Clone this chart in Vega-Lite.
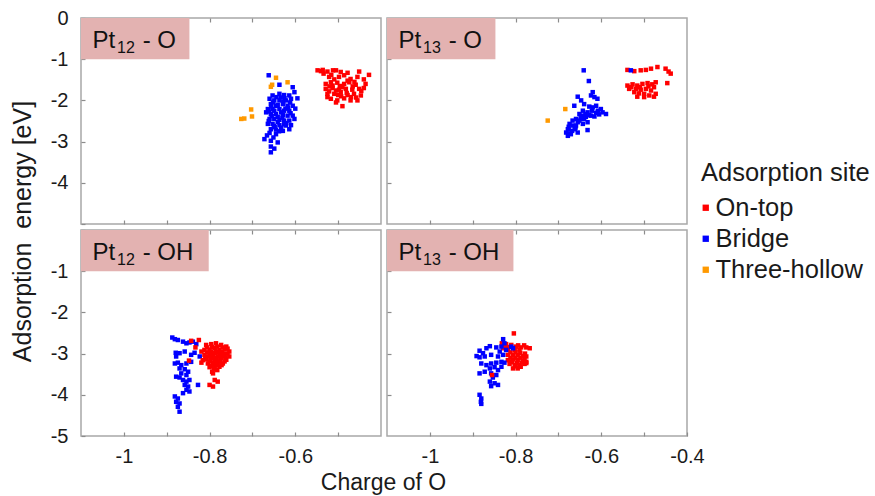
{
  "$schema": "https://vega.github.io/schema/vega-lite/v6.json",
  "padding": {"left": 9, "top": 7, "right": 5, "bottom": 0},
  "config": {
    "font": "Liberation Sans",
    "view": {"stroke": "#a8a8a8", "strokeWidth": 1.5},
    "axis": {"grid": false, "domain": false, "tickColor": "#8c8c8c", "tickSize": -4, "tickWidth": 1.2, "labelFontSize": 20, "labelColor": "#1a1a1a", "titleColor": "#1a1a1a", "titleFontWeight": "normal", "labelFlush": false, "labelOverlap": false, "labelPadding": 14},
    "axisY": {"labelPadding": 17},
    "legend": {"orient": "none", "legendX": 620, "legendY": 142.5, "titleFontSize": 25.5, "labelFontSize": 25.5, "titleFontWeight": "normal", "titleColor": "#1a1a1a", "labelColor": "#1a1a1a", "symbolType": "square", "symbolSize": 40, "symbolStrokeWidth": 0, "symbolOffset": -8, "rowPadding": 4, "titlePadding": 9, "labelOffset": -3, "padding": 0}
  },
  "datasets": {
    "pt12o": [
      {"site":"Bridge","charge":-0.662,"energy":-1.39},{"site":"Bridge","charge":-0.637,"energy":-1.62},{"site":"Bridge","charge":-0.606,"energy":-1.68},{"site":"Bridge","charge":-0.602,"energy":-1.80},{"site":"Bridge","charge":-0.653,"energy":-1.88},{"site":"Bridge","charge":-0.637,"energy":-1.84},{"site":"Bridge","charge":-0.626,"energy":-1.87},{"site":"Bridge","charge":-0.614,"energy":-1.88},{"site":"Bridge","charge":-0.660,"energy":-1.96},{"site":"Bridge","charge":-0.649,"energy":-2.00},{"site":"Bridge","charge":-0.637,"energy":-2.00},{"site":"Bridge","charge":-0.622,"energy":-2.00},{"site":"Bridge","charge":-0.610,"energy":-1.96},{"site":"Bridge","charge":-0.595,"energy":-1.95},{"site":"Bridge","charge":-0.657,"energy":-2.09},{"site":"Bridge","charge":-0.641,"energy":-2.11},{"site":"Bridge","charge":-0.629,"energy":-2.09},{"site":"Bridge","charge":-0.618,"energy":-2.13},{"site":"Bridge","charge":-0.606,"energy":-2.13},{"site":"Bridge","charge":-0.664,"energy":-2.21},{"site":"Bridge","charge":-0.653,"energy":-2.21},{"site":"Bridge","charge":-0.637,"energy":-2.21},{"site":"Bridge","charge":-0.626,"energy":-2.25},{"site":"Bridge","charge":-0.614,"energy":-2.25},{"site":"Bridge","charge":-0.668,"energy":-2.29},{"site":"Bridge","charge":-0.657,"energy":-2.33},{"site":"Bridge","charge":-0.645,"energy":-2.33},{"site":"Bridge","charge":-0.629,"energy":-2.35},{"site":"Bridge","charge":-0.606,"energy":-2.37},{"site":"Bridge","charge":-0.660,"energy":-2.45},{"site":"Bridge","charge":-0.649,"energy":-2.45},{"site":"Bridge","charge":-0.637,"energy":-2.47},{"site":"Bridge","charge":-0.626,"energy":-2.49},{"site":"Bridge","charge":-0.614,"energy":-2.49},{"site":"Bridge","charge":-0.664,"energy":-2.57},{"site":"Bridge","charge":-0.653,"energy":-2.57},{"site":"Bridge","charge":-0.637,"energy":-2.60},{"site":"Bridge","charge":-0.622,"energy":-2.61},{"site":"Bridge","charge":-0.610,"energy":-2.60},{"site":"Bridge","charge":-0.657,"energy":-2.70},{"site":"Bridge","charge":-0.645,"energy":-2.71},{"site":"Bridge","charge":-0.629,"energy":-2.74},{"site":"Bridge","charge":-0.614,"energy":-2.70},{"site":"Bridge","charge":-0.660,"energy":-2.79},{"site":"Bridge","charge":-0.645,"energy":-2.82},{"site":"Bridge","charge":-0.672,"energy":-2.94},{"site":"Bridge","charge":-0.657,"energy":-2.98},{"site":"Bridge","charge":-0.641,"energy":-3.02},{"site":"Bridge","charge":-0.657,"energy":-3.12},{"site":"Bridge","charge":-0.649,"energy":-3.17},{"site":"Bridge","charge":-0.657,"energy":-3.26},{"site":"Bridge","charge":-0.645,"energy":-2.13},{"site":"Bridge","charge":-0.633,"energy":-2.29},{"site":"Bridge","charge":-0.641,"energy":-2.53},{"site":"Bridge","charge":-0.618,"energy":-2.37},{"site":"Bridge","charge":-0.649,"energy":-2.25},{"site":"Bridge","charge":-0.652,"energy":-2.05},{"site":"Bridge","charge":-0.628,"energy":-2.04},{"site":"Bridge","charge":-0.617,"energy":-2.18},{"site":"Bridge","charge":-0.641,"energy":-2.40},{"site":"Bridge","charge":-0.630,"energy":-2.42},{"site":"Bridge","charge":-0.655,"energy":-2.38},{"site":"Bridge","charge":-0.621,"energy":-2.55},{"site":"Bridge","charge":-0.648,"energy":-2.65},{"site":"Bridge","charge":-0.633,"energy":-2.66},{"site":"Bridge","charge":-0.662,"energy":-2.50},{"site":"Bridge","charge":-0.625,"energy":-1.95},{"site":"Bridge","charge":-0.644,"energy":-1.92},
      {"site":"Bridge","charge":-0.634,"energy":-1.93},{"site":"Bridge","charge":-0.656,"energy":-2.15},{"site":"Bridge","charge":-0.623,"energy":-2.20},{"site":"Bridge","charge":-0.661,"energy":-2.27},{"site":"Bridge","charge":-0.611,"energy":-2.31},{"site":"Bridge","charge":-0.650,"energy":-2.62},{"site":"Bridge","charge":-0.626,"energy":-2.58},{"site":"Bridge","charge":-0.638,"energy":-2.75},{"site":"Bridge","charge":-0.666,"energy":-2.85},{"site":"Bridge","charge":-0.651,"energy":-2.90},{"site":"Bridge","charge":-0.612,"energy":-2.05},{"site":"Bridge","charge":-0.600,"energy":-2.20},{"site":"Bridge","charge":-0.602,"energy":-2.45},
      {"site":"Three-hollow","charge":-0.645,"energy":-1.45},{"site":"Three-hollow","charge":-0.618,"energy":-1.56},{"site":"Three-hollow","charge":-0.654,"energy":-1.62},{"site":"Three-hollow","charge":-0.657,"energy":-1.67},{"site":"Three-hollow","charge":-0.703,"energy":-2.22},{"site":"Three-hollow","charge":-0.701,"energy":-2.39},{"site":"Three-hollow","charge":-0.726,"energy":-2.45},{"site":"Three-hollow","charge":-0.719,"energy":-2.44},
      {"site":"On-top","charge":-0.548,"energy":-1.27},{"site":"On-top","charge":-0.536,"energy":-1.26},{"site":"On-top","charge":-0.525,"energy":-1.30},{"site":"On-top","charge":-0.505,"energy":-1.27},{"site":"On-top","charge":-0.494,"energy":-1.31},{"site":"On-top","charge":-0.478,"energy":-1.33},{"site":"On-top","charge":-0.451,"energy":-1.30},{"site":"On-top","charge":-0.428,"energy":-1.38},{"site":"On-top","charge":-0.521,"energy":-1.43},{"site":"On-top","charge":-0.498,"energy":-1.43},{"site":"On-top","charge":-0.486,"energy":-1.39},{"site":"On-top","charge":-0.471,"energy":-1.48},{"site":"On-top","charge":-0.455,"energy":-1.43},{"site":"On-top","charge":-0.440,"energy":-1.49},{"site":"On-top","charge":-0.529,"energy":-1.60},{"site":"On-top","charge":-0.517,"energy":-1.56},{"site":"On-top","charge":-0.502,"energy":-1.57},{"site":"On-top","charge":-0.486,"energy":-1.60},{"site":"On-top","charge":-0.474,"energy":-1.56},{"site":"On-top","charge":-0.459,"energy":-1.62},{"site":"On-top","charge":-0.436,"energy":-1.60},{"site":"On-top","charge":-0.529,"energy":-1.72},{"site":"On-top","charge":-0.513,"energy":-1.70},{"site":"On-top","charge":-0.498,"energy":-1.74},{"site":"On-top","charge":-0.482,"energy":-1.72},{"site":"On-top","charge":-0.467,"energy":-1.74},{"site":"On-top","charge":-0.451,"energy":-1.72},{"site":"On-top","charge":-0.440,"energy":-1.70},{"site":"On-top","charge":-0.525,"energy":-1.84},{"site":"On-top","charge":-0.509,"energy":-1.84},{"site":"On-top","charge":-0.494,"energy":-1.80},{"site":"On-top","charge":-0.478,"energy":-1.87},{"site":"On-top","charge":-0.463,"energy":-1.84},{"site":"On-top","charge":-0.447,"energy":-1.88},{"site":"On-top","charge":-0.517,"energy":-1.96},{"site":"On-top","charge":-0.502,"energy":-2.00},{"site":"On-top","charge":-0.486,"energy":-1.95},{"site":"On-top","charge":-0.471,"energy":-2.00},{"site":"On-top","charge":-0.455,"energy":-2.00},{"site":"On-top","charge":-0.490,"energy":-2.14},{"site":"On-top","charge":-0.505,"energy":-2.05},{"site":"On-top","charge":-0.513,"energy":-1.64},{"site":"On-top","charge":-0.505,"energy":-1.76},{"site":"On-top","charge":-0.490,"energy":-1.68},{"site":"On-top","charge":-0.521,"energy":-1.78},{"site":"On-top","charge":-0.509,"energy":-1.49},{"site":"On-top","charge":-0.496,"energy":-1.65},{"site":"On-top","charge":-0.480,"energy":-1.82},{"site":"On-top","charge":-0.520,"energy":-1.66},{"site":"On-top","charge":-0.500,"energy":-1.87},{"site":"On-top","charge":-0.466,"energy":-1.66},{"site":"On-top","charge":-0.512,"energy":-1.27},{"site":"On-top","charge":-0.540,"energy":-1.29},
      {"site":"On-top","charge":-0.534,"energy":-1.35},{"site":"On-top","charge":-0.516,"energy":-1.38},{"site":"On-top","charge":-0.478,"energy":-1.52},{"site":"On-top","charge":-0.462,"energy":-1.55},{"site":"On-top","charge":-0.446,"energy":-1.77},{"site":"On-top","charge":-0.458,"energy":-1.93},{"site":"On-top","charge":-0.525,"energy":-1.92},{"site":"On-top","charge":-0.493,"energy":-1.90},{"site":"On-top","charge":-0.470,"energy":-1.92}
    ],
    "pt13o": [
      {"site":"Bridge","charge":-0.641,"energy":-1.27},{"site":"Bridge","charge":-0.629,"energy":-1.53},{"site":"Bridge","charge":-0.620,"energy":-1.80},{"site":"Bridge","charge":-0.624,"energy":-1.88},{"site":"Bridge","charge":-0.616,"energy":-1.92},{"site":"Bridge","charge":-0.655,"energy":-1.91},{"site":"Bridge","charge":-0.609,"energy":-1.96},{"site":"Bridge","charge":-0.647,"energy":-2.00},{"site":"Bridge","charge":-0.640,"energy":-2.09},{"site":"Bridge","charge":-0.628,"energy":-2.15},{"site":"Bridge","charge":-0.620,"energy":-2.17},{"site":"Bridge","charge":-0.612,"energy":-2.13},{"site":"Bridge","charge":-0.663,"energy":-2.13},{"site":"Bridge","charge":-0.601,"energy":-2.21},{"site":"Bridge","charge":-0.589,"energy":-2.33},{"site":"Bridge","charge":-0.597,"energy":-2.29},{"site":"Bridge","charge":-0.643,"energy":-2.25},{"site":"Bridge","charge":-0.632,"energy":-2.29},{"site":"Bridge","charge":-0.651,"energy":-2.33},{"site":"Bridge","charge":-0.643,"energy":-2.37},{"site":"Bridge","charge":-0.624,"energy":-2.37},{"site":"Bridge","charge":-0.616,"energy":-2.39},{"site":"Bridge","charge":-0.659,"energy":-2.45},{"site":"Bridge","charge":-0.647,"energy":-2.45},{"site":"Bridge","charge":-0.667,"energy":-2.49},{"site":"Bridge","charge":-0.655,"energy":-2.53},{"site":"Bridge","charge":-0.643,"energy":-2.57},{"site":"Bridge","charge":-0.632,"energy":-2.53},{"site":"Bridge","charge":-0.674,"energy":-2.57},{"site":"Bridge","charge":-0.667,"energy":-2.61},{"site":"Bridge","charge":-0.678,"energy":-2.70},{"site":"Bridge","charge":-0.682,"energy":-2.78},{"site":"Bridge","charge":-0.671,"energy":-2.82},{"site":"Bridge","charge":-0.678,"energy":-2.86},{"site":"Bridge","charge":-0.655,"energy":-2.78},{"site":"Bridge","charge":-0.632,"energy":-2.72},{"site":"Bridge","charge":-0.651,"energy":-2.49},{"site":"Bridge","charge":-0.659,"energy":-2.61},{"site":"Bridge","charge":-0.640,"energy":-2.45},{"site":"Bridge","charge":-0.675,"energy":-2.80},{"site":"Bridge","charge":-0.668,"energy":-2.74},{"site":"Bridge","charge":-0.636,"energy":-2.40},{"site":"Bridge","charge":-0.628,"energy":-2.36},{"site":"Bridge","charge":-0.648,"energy":-2.42},{"site":"Bridge","charge":-0.612,"energy":-2.30},{"site":"Bridge","charge":-0.605,"energy":-2.34},
      {"site":"Bridge","charge":-0.622,"energy":-2.25},{"site":"Bridge","charge":-0.608,"energy":-2.25},{"site":"Bridge","charge":-0.637,"energy":-2.33},{"site":"Bridge","charge":-0.662,"energy":-2.70},{"site":"Bridge","charge":-0.660,"energy":-2.66},{"site":"Bridge","charge":-0.676,"energy":-2.64},
      {"site":"Three-hollow","charge":-0.684,"energy":-2.21},{"site":"Three-hollow","charge":-0.725,"energy":-2.49},
      {"site":"On-top","charge":-0.539,"energy":-1.26},{"site":"On-top","charge":-0.523,"energy":-1.29},{"site":"On-top","charge":-0.508,"energy":-1.27},{"site":"On-top","charge":-0.496,"energy":-1.26},{"site":"On-top","charge":-0.484,"energy":-1.23},{"site":"On-top","charge":-0.469,"energy":-1.19},{"site":"On-top","charge":-0.450,"energy":-1.23},{"site":"On-top","charge":-0.438,"energy":-1.35},{"site":"On-top","charge":-0.446,"energy":-1.58},{"site":"On-top","charge":-0.473,"energy":-1.56},{"site":"On-top","charge":-0.481,"energy":-1.61},{"site":"On-top","charge":-0.539,"energy":-1.64},{"site":"On-top","charge":-0.527,"energy":-1.61},{"site":"On-top","charge":-0.516,"energy":-1.64},{"site":"On-top","charge":-0.504,"energy":-1.60},{"site":"On-top","charge":-0.492,"energy":-1.58},{"site":"On-top","charge":-0.477,"energy":-1.68},{"site":"On-top","charge":-0.535,"energy":-1.72},{"site":"On-top","charge":-0.519,"energy":-1.72},{"site":"On-top","charge":-0.508,"energy":-1.74},{"site":"On-top","charge":-0.496,"energy":-1.72},{"site":"On-top","charge":-0.484,"energy":-1.76},{"site":"On-top","charge":-0.473,"energy":-1.84},{"site":"On-top","charge":-0.523,"energy":-1.80},{"site":"On-top","charge":-0.512,"energy":-1.83},{"site":"On-top","charge":-0.500,"energy":-1.84},{"site":"On-top","charge":-0.488,"energy":-1.88},{"site":"On-top","charge":-0.516,"energy":-1.91},{"site":"On-top","charge":-0.500,"energy":-1.92},{"site":"On-top","charge":-0.477,"energy":-1.91},{"site":"On-top","charge":-0.443,"energy":-1.30},{"site":"On-top","charge":-0.510,"energy":-1.68},{"site":"On-top","charge":-0.490,"energy":-1.66},{"site":"On-top","charge":-0.530,"energy":-1.68},
      {"site":"Bridge","charge":-0.531,"energy":-1.27}
    ],
    "pt12oh": [
      {"site":"Bridge","charge":-0.887,"energy":-2.61},{"site":"Bridge","charge":-0.881,"energy":-2.65},{"site":"Bridge","charge":-0.874,"energy":-2.67},{"site":"Bridge","charge":-0.862,"energy":-2.71},{"site":"Bridge","charge":-0.854,"energy":-2.75},{"site":"Bridge","charge":-0.847,"energy":-2.73},{"site":"Bridge","charge":-0.839,"energy":-2.71},{"site":"Bridge","charge":-0.831,"energy":-2.77},{"site":"Bridge","charge":-0.879,"energy":-2.98},{"site":"Bridge","charge":-0.870,"energy":-2.99},{"site":"Bridge","charge":-0.858,"energy":-2.95},{"site":"Bridge","charge":-0.843,"energy":-3.03},{"site":"Bridge","charge":-0.835,"energy":-2.98},{"site":"Bridge","charge":-0.823,"energy":-3.07},{"site":"Bridge","charge":-0.878,"energy":-3.07},{"site":"Bridge","charge":-0.881,"energy":-3.24},{"site":"Bridge","charge":-0.874,"energy":-3.22},{"site":"Bridge","charge":-0.866,"energy":-3.28},{"site":"Bridge","charge":-0.854,"energy":-3.24},{"site":"Bridge","charge":-0.843,"energy":-3.20},{"site":"Bridge","charge":-0.870,"energy":-3.36},{"site":"Bridge","charge":-0.858,"energy":-3.38},{"site":"Bridge","charge":-0.850,"energy":-3.44},{"site":"Bridge","charge":-0.866,"energy":-3.48},{"site":"Bridge","charge":-0.854,"energy":-3.52},{"site":"Bridge","charge":-0.878,"energy":-3.56},{"site":"Bridge","charge":-0.870,"energy":-3.58},{"site":"Bridge","charge":-0.862,"energy":-3.64},{"site":"Bridge","charge":-0.854,"energy":-3.68},{"site":"Bridge","charge":-0.847,"energy":-3.64},{"site":"Bridge","charge":-0.858,"energy":-3.76},{"site":"Bridge","charge":-0.850,"energy":-3.80},{"site":"Bridge","charge":-0.827,"energy":-3.76},{"site":"Bridge","charge":-0.854,"energy":-3.88},{"site":"Bridge","charge":-0.847,"energy":-3.92},{"site":"Bridge","charge":-0.862,"energy":-3.96},{"site":"Bridge","charge":-0.881,"energy":-4.04},{"site":"Bridge","charge":-0.874,"energy":-4.09},{"site":"Bridge","charge":-0.878,"energy":-4.17},{"site":"Bridge","charge":-0.870,"energy":-4.21},{"site":"Bridge","charge":-0.874,"energy":-4.29},{"site":"Bridge","charge":-0.870,"energy":-4.41},
      {"site":"On-top","charge":-0.843,"energy":-2.69},{"site":"On-top","charge":-0.825,"energy":-2.67},{"site":"On-top","charge":-0.833,"energy":-2.85},{"site":"On-top","charge":-0.819,"energy":-2.95},{"site":"On-top","charge":-0.816,"energy":-3.16},{"site":"On-top","charge":-0.848,"energy":-3.17},{"site":"On-top","charge":-0.819,"energy":-3.22},{"site":"On-top","charge":-0.792,"energy":-3.48},{"site":"On-top","charge":-0.788,"energy":-3.64},{"site":"On-top","charge":-0.800,"energy":-3.76},{"site":"On-top","charge":-0.792,"energy":-3.80},{"site":"On-top","charge":-0.781,"energy":-3.68},{"site":"On-top","charge":-0.808,"energy":-2.79},{"site":"On-top","charge":-0.796,"energy":-2.77},{"site":"On-top","charge":-0.785,"energy":-2.75},{"site":"On-top","charge":-0.773,"energy":-2.79},{"site":"On-top","charge":-0.761,"energy":-2.83},{"site":"On-top","charge":-0.812,"energy":-2.91},{"site":"On-top","charge":-0.800,"energy":-2.90},{"site":"On-top","charge":-0.788,"energy":-2.87},{"site":"On-top","charge":-0.777,"energy":-2.91},{"site":"On-top","charge":-0.765,"energy":-2.90},{"site":"On-top","charge":-0.754,"energy":-2.95},{"site":"On-top","charge":-0.812,"energy":-3.03},{"site":"On-top","charge":-0.800,"energy":-3.01},{"site":"On-top","charge":-0.788,"energy":-2.99},{"site":"On-top","charge":-0.777,"energy":-3.03},{"site":"On-top","charge":-0.765,"energy":-3.01},{"site":"On-top","charge":-0.754,"energy":-3.07},{"site":"On-top","charge":-0.808,"energy":-3.14},{"site":"On-top","charge":-0.796,"energy":-3.11},{"site":"On-top","charge":-0.785,"energy":-3.14},{"site":"On-top","charge":-0.773,"energy":-3.11},{"site":"On-top","charge":-0.761,"energy":-3.15},{"site":"On-top","charge":-0.804,"energy":-3.24},{"site":"On-top","charge":-0.792,"energy":-3.22},{"site":"On-top","charge":-0.781,"energy":-3.25},{"site":"On-top","charge":-0.769,"energy":-3.24},{"site":"On-top","charge":-0.800,"energy":-3.33},{"site":"On-top","charge":-0.788,"energy":-3.36},{"site":"On-top","charge":-0.777,"energy":-3.32},{"site":"On-top","charge":-0.794,"energy":-3.44},{"site":"On-top","charge":-0.804,"energy":-3.07},{"site":"On-top","charge":-0.792,"energy":-3.07},{"site":"On-top","charge":-0.781,"energy":-3.07},{"site":"On-top","charge":-0.769,"energy":-3.07},{"site":"On-top","charge":-0.796,"energy":-2.95},{"site":"On-top","charge":-0.785,"energy":-2.95},{"site":"On-top","charge":-0.773,"energy":-2.98},{"site":"On-top","charge":-0.792,"energy":-3.28},{"site":"On-top","charge":-0.785,"energy":-3.20},
      {"site":"On-top","charge":-0.806,"energy":-2.85},{"site":"On-top","charge":-0.794,"energy":-2.84},{"site":"On-top","charge":-0.782,"energy":-2.83},{"site":"On-top","charge":-0.770,"energy":-2.85},{"site":"On-top","charge":-0.758,"energy":-2.88},{"site":"On-top","charge":-0.806,"energy":-2.97},{"site":"On-top","charge":-0.794,"energy":-3.00},{"site":"On-top","charge":-0.782,"energy":-2.97},{"site":"On-top","charge":-0.770,"energy":-2.96},{"site":"On-top","charge":-0.758,"energy":-3.00},{"site":"On-top","charge":-0.810,"energy":-3.09},{"site":"On-top","charge":-0.798,"energy":-3.13},{"site":"On-top","charge":-0.787,"energy":-3.10},{"site":"On-top","charge":-0.775,"energy":-3.15},{"site":"On-top","charge":-0.763,"energy":-3.10},{"site":"On-top","charge":-0.800,"energy":-3.19},{"site":"On-top","charge":-0.788,"energy":-3.18},{"site":"On-top","charge":-0.776,"energy":-3.19},{"site":"On-top","charge":-0.765,"energy":-3.19},{"site":"On-top","charge":-0.796,"energy":-3.30},{"site":"On-top","charge":-0.784,"energy":-3.28},{"site":"On-top","charge":-0.772,"energy":-3.28},{"site":"On-top","charge":-0.790,"energy":-3.38},{"site":"On-top","charge":-0.782,"energy":-3.40}
    ],
    "pt13oh": [
      {"site":"On-top","charge":-0.804,"energy":-2.51},{"site":"On-top","charge":-0.832,"energy":-2.75},{"site":"On-top","charge":-0.822,"energy":-2.77},{"site":"On-top","charge":-0.810,"energy":-2.79},{"site":"On-top","charge":-0.799,"energy":-2.83},{"site":"On-top","charge":-0.787,"energy":-2.85},{"site":"On-top","charge":-0.775,"energy":-2.85},{"site":"On-top","charge":-0.767,"energy":-2.87},{"site":"On-top","charge":-0.829,"energy":-2.87},{"site":"On-top","charge":-0.818,"energy":-2.90},{"site":"On-top","charge":-0.802,"energy":-2.91},{"site":"On-top","charge":-0.791,"energy":-2.90},{"site":"On-top","charge":-0.818,"energy":-3.03},{"site":"On-top","charge":-0.806,"energy":-3.03},{"site":"On-top","charge":-0.795,"energy":-3.03},{"site":"On-top","charge":-0.783,"energy":-3.06},{"site":"On-top","charge":-0.775,"energy":-3.07},{"site":"On-top","charge":-0.818,"energy":-3.16},{"site":"On-top","charge":-0.806,"energy":-3.14},{"site":"On-top","charge":-0.795,"energy":-3.16},{"site":"On-top","charge":-0.783,"energy":-3.17},{"site":"On-top","charge":-0.775,"energy":-3.20},{"site":"On-top","charge":-0.814,"energy":-3.25},{"site":"On-top","charge":-0.802,"energy":-3.28},{"site":"On-top","charge":-0.791,"energy":-3.28},{"site":"On-top","charge":-0.779,"energy":-3.25},{"site":"On-top","charge":-0.806,"energy":-3.36},{"site":"On-top","charge":-0.795,"energy":-3.36},
      {"site":"On-top","charge":-0.812,"energy":-2.97},{"site":"On-top","charge":-0.800,"energy":-2.97},{"site":"On-top","charge":-0.789,"energy":-2.98},{"site":"On-top","charge":-0.778,"energy":-3.00},{"site":"On-top","charge":-0.812,"energy":-3.10},{"site":"On-top","charge":-0.800,"energy":-3.10},{"site":"On-top","charge":-0.789,"energy":-3.10},{"site":"On-top","charge":-0.779,"energy":-3.12},{"site":"On-top","charge":-0.808,"energy":-3.21},{"site":"On-top","charge":-0.797,"energy":-3.22},{"site":"On-top","charge":-0.786,"energy":-3.22},{"site":"On-top","charge":-0.775,"energy":-3.23},{"site":"On-top","charge":-0.800,"energy":-3.31},{"site":"On-top","charge":-0.788,"energy":-3.32},{"site":"On-top","charge":-0.825,"energy":-2.81},{"site":"On-top","charge":-0.815,"energy":-2.84},{"site":"On-top","charge":-0.794,"energy":-2.80},{"site":"On-top","charge":-0.780,"energy":-2.80},
      {"site":"Bridge","charge":-0.829,"energy":-2.65},{"site":"Bridge","charge":-0.826,"energy":-2.75},{"site":"Bridge","charge":-0.860,"energy":-2.82},{"site":"Bridge","charge":-0.868,"energy":-2.87},{"site":"Bridge","charge":-0.884,"energy":-2.93},{"site":"Bridge","charge":-0.876,"energy":-2.99},{"site":"Bridge","charge":-0.891,"energy":-3.06},{"site":"Bridge","charge":-0.884,"energy":-3.09},{"site":"Bridge","charge":-0.845,"energy":-2.85},{"site":"Bridge","charge":-0.833,"energy":-2.83},{"site":"Bridge","charge":-0.872,"energy":-3.07},{"site":"Bridge","charge":-0.857,"energy":-3.03},{"site":"Bridge","charge":-0.841,"energy":-3.07},{"site":"Bridge","charge":-0.829,"energy":-3.03},{"site":"Bridge","charge":-0.837,"energy":-2.95},{"site":"Bridge","charge":-0.822,"energy":-2.91},{"site":"Bridge","charge":-0.806,"energy":-2.87},{"site":"Bridge","charge":-0.880,"energy":-3.24},{"site":"Bridge","charge":-0.868,"energy":-3.28},{"site":"Bridge","charge":-0.857,"energy":-3.24},{"site":"Bridge","charge":-0.845,"energy":-3.22},{"site":"Bridge","charge":-0.833,"energy":-3.20},{"site":"Bridge","charge":-0.860,"energy":-3.36},{"site":"Bridge","charge":-0.849,"energy":-3.33},{"site":"Bridge","charge":-0.841,"energy":-3.40},{"site":"Bridge","charge":-0.833,"energy":-3.32},{"site":"Bridge","charge":-0.884,"energy":-3.48},{"site":"Bridge","charge":-0.872,"energy":-3.44},{"site":"Bridge","charge":-0.857,"energy":-3.48},{"site":"Bridge","charge":-0.845,"energy":-3.52},{"site":"Bridge","charge":-0.853,"energy":-3.58},{"site":"Bridge","charge":-0.860,"energy":-3.68},{"site":"Bridge","charge":-0.849,"energy":-3.72},{"site":"Bridge","charge":-0.841,"energy":-3.76},{"site":"Bridge","charge":-0.857,"energy":-3.79},{"site":"Bridge","charge":-0.884,"energy":-4.00},{"site":"Bridge","charge":-0.880,"energy":-4.09},{"site":"Bridge","charge":-0.881,"energy":-4.17},{"site":"Bridge","charge":-0.880,"energy":-4.22},{"site":"Bridge","charge":-0.810,"energy":-2.83},{"site":"Bridge","charge":-0.826,"energy":-3.22},
      {"site":"On-top","charge":-0.855,"energy":-3.52}
    ]
  },
  "columns": 2,
  "spacing": {"row": 6, "column": 6},
  "bounds": "flush",
  "concat": [
    {
      "width": 300, "height": 206,
      "layer": [
        {"data": {"values": [{"metal": "Pt", "n": "12", "ads": "- O"}]},
         "mark": {"type": "rect", "color": "#e3b2b1"},
         "encoding": {
           "x": {"datum": -1.1, "type": "quantitative", "scale": {"domain": [-1.1, -0.4], "nice": false, "zero": false}, "axis": {"orient": "top", "values": [-1, -0.9, -0.8, -0.7, -0.6, -0.5], "labels": false, "title": null}},
           "x2": {"datum": -0.847},
           "y": {"datum": 0, "type": "quantitative", "scale": {"domain": [-5, 0], "nice": false, "zero": false}},
           "y2": {"datum": -1.0}}},
        {"data": {"values": [{"metal": "Pt", "n": "12", "ads": "- O"}]},
         "mark": {"type": "text", "align": "left", "baseline": "alphabetic", "fontSize": 24, "color": "#111111"},
         "encoding": {"x": {"datum": -1.073, "type": "quantitative", "axis": null}, "y": {"datum": -0.74, "type": "quantitative"}, "text": {"field": "metal"}}},
        {"data": {"values": [{"metal": "Pt", "n": "12", "ads": "- O"}]},
         "mark": {"type": "text", "align": "left", "baseline": "alphabetic", "fontSize": 16, "color": "#111111"},
         "encoding": {"x": {"datum": -1.016, "type": "quantitative", "axis": null}, "y": {"datum": -0.86, "type": "quantitative"}, "text": {"field": "n"}}},
        {"data": {"values": [{"metal": "Pt", "n": "12", "ads": "- O"}]},
         "mark": {"type": "text", "align": "left", "baseline": "alphabetic", "fontSize": 24, "color": "#111111"},
         "encoding": {"x": {"datum": -0.956, "type": "quantitative", "axis": null}, "y": {"datum": -0.74, "type": "quantitative"}, "text": {"field": "ads"}}},
        {"data": {"name": "pt12o"},
         "mark": {"type": "square", "size": 20, "opacity": 1},
         "encoding": {
           "x": {"field": "charge", "type": "quantitative", "scale": {"domain": [-1.1, -0.4], "nice": false, "zero": false}, "axis": {"orient": "bottom", "values": [-1, -0.9, -0.8, -0.7, -0.6, -0.5], "labels": false, "title": null}},
           "y": {"field": "energy", "type": "quantitative", "scale": {"domain": [-5, 0], "nice": false, "zero": false}, "axis": {"orient": "left", "values": [0, -1, -2, -3, -4, -5], "labelExpr": "datum.value == -5 ? '' : replace(format(datum.value, '~g'), '\u2212', '-')", "title": "Adsorption\u00a0 energy [eV]", "titleFontSize": 25, "titleAngle": -90, "titleX": -46, "titleY": 213, "titleAlign": "center", "titleBaseline": "bottom"}},
           "color": {"field": "site", "type": "nominal", "scale": {"domain": ["On-top", "Bridge", "Three-hollow"], "range": ["#ff0000", "#0000ff", "#ff9900"]}, "legend": {"title": "Adsorption site"}}}}
      ]
    },
    {
      "width": 300, "height": 206,
      "layer": [
        {"data": {"values": [{"metal": "Pt", "n": "13", "ads": "- O"}]},
         "mark": {"type": "rect", "color": "#e3b2b1"},
         "encoding": {
           "x": {"datum": -1.1, "type": "quantitative", "scale": {"domain": [-1.1, -0.4], "nice": false, "zero": false}, "axis": {"orient": "top", "values": [-1, -0.9, -0.8, -0.7, -0.6, -0.5], "labels": false, "title": null}},
           "x2": {"datum": -0.847},
           "y": {"datum": 0, "type": "quantitative", "scale": {"domain": [-5, 0], "nice": false, "zero": false}},
           "y2": {"datum": -1.0}}},
        {"data": {"values": [{"metal": "Pt", "n": "13", "ads": "- O"}]},
         "mark": {"type": "text", "align": "left", "baseline": "alphabetic", "fontSize": 24, "color": "#111111"},
         "encoding": {"x": {"datum": -1.073, "type": "quantitative", "axis": null}, "y": {"datum": -0.74, "type": "quantitative"}, "text": {"field": "metal"}}},
        {"data": {"values": [{"metal": "Pt", "n": "13", "ads": "- O"}]},
         "mark": {"type": "text", "align": "left", "baseline": "alphabetic", "fontSize": 16, "color": "#111111"},
         "encoding": {"x": {"datum": -1.016, "type": "quantitative", "axis": null}, "y": {"datum": -0.86, "type": "quantitative"}, "text": {"field": "n"}}},
        {"data": {"values": [{"metal": "Pt", "n": "13", "ads": "- O"}]},
         "mark": {"type": "text", "align": "left", "baseline": "alphabetic", "fontSize": 24, "color": "#111111"},
         "encoding": {"x": {"datum": -0.956, "type": "quantitative", "axis": null}, "y": {"datum": -0.74, "type": "quantitative"}, "text": {"field": "ads"}}},
        {"data": {"name": "pt13o"},
         "mark": {"type": "square", "size": 20, "opacity": 1},
         "encoding": {
           "x": {"field": "charge", "type": "quantitative", "scale": {"domain": [-1.1, -0.4], "nice": false, "zero": false}, "axis": {"orient": "bottom", "values": [-1, -0.9, -0.8, -0.7, -0.6, -0.5], "labels": false, "title": null}},
           "y": {"field": "energy", "type": "quantitative", "scale": {"domain": [-5, 0], "nice": false, "zero": false}, "axis": {"orient": "left", "values": [-1, -2, -3, -4], "labels": false, "title": null}},
           "color": {"field": "site", "type": "nominal", "scale": {"domain": ["On-top", "Bridge", "Three-hollow"], "range": ["#ff0000", "#0000ff", "#ff9900"]}, "legend": {"title": "Adsorption site"}}}}
      ]
    },
    {
      "width": 300, "height": 206,
      "layer": [
        {"data": {"values": [{"metal": "Pt", "n": "12", "ads": "- OH"}]},
         "mark": {"type": "rect", "color": "#e3b2b1"},
         "encoding": {
           "x": {"datum": -1.1, "type": "quantitative", "scale": {"domain": [-1.1, -0.4], "nice": false, "zero": false}, "axis": {"orient": "top", "values": [-1, -0.9, -0.8, -0.7, -0.6, -0.5], "labels": false, "title": null}},
           "x2": {"datum": -0.802},
           "y": {"datum": 0, "type": "quantitative", "scale": {"domain": [-5, 0], "nice": false, "zero": false}},
           "y2": {"datum": -1.0}}},
        {"data": {"values": [{"metal": "Pt", "n": "12", "ads": "- OH"}]},
         "mark": {"type": "text", "align": "left", "baseline": "alphabetic", "fontSize": 24, "color": "#111111"},
         "encoding": {"x": {"datum": -1.073, "type": "quantitative", "axis": null}, "y": {"datum": -0.74, "type": "quantitative"}, "text": {"field": "metal"}}},
        {"data": {"values": [{"metal": "Pt", "n": "12", "ads": "- OH"}]},
         "mark": {"type": "text", "align": "left", "baseline": "alphabetic", "fontSize": 16, "color": "#111111"},
         "encoding": {"x": {"datum": -1.016, "type": "quantitative", "axis": null}, "y": {"datum": -0.86, "type": "quantitative"}, "text": {"field": "n"}}},
        {"data": {"values": [{"metal": "Pt", "n": "12", "ads": "- OH"}]},
         "mark": {"type": "text", "align": "left", "baseline": "alphabetic", "fontSize": 24, "color": "#111111"},
         "encoding": {"x": {"datum": -0.956, "type": "quantitative", "axis": null}, "y": {"datum": -0.74, "type": "quantitative"}, "text": {"field": "ads"}}},
        {"data": {"name": "pt12oh"},
         "mark": {"type": "square", "size": 20, "opacity": 1},
         "encoding": {
           "x": {"field": "charge", "type": "quantitative", "scale": {"domain": [-1.1, -0.4], "nice": false, "zero": false}, "axis": {"orient": "bottom", "values": [-1, -0.9, -0.8, -0.7, -0.6, -0.5], "labelExpr": "indexof([-1, -0.8, -0.6], datum.value) >= 0 ? replace(format(datum.value, '~g'), '\u2212', '-') : ''", "title": "Charge of O", "titleFontSize": 23, "titleX": 302, "titleY": 53, "titleAlign": "center", "titleBaseline": "alphabetic"}},
           "y": {"field": "energy", "type": "quantitative", "scale": {"domain": [-5, 0], "nice": false, "zero": false}, "axis": {"orient": "left", "values": [0, -1, -2, -3, -4, -5], "labelExpr": "datum.value == 0 ? '' : replace(format(datum.value, '~g'), '\u2212', '-')", "title": null}},
           "color": {"field": "site", "type": "nominal", "scale": {"domain": ["On-top", "Bridge", "Three-hollow"], "range": ["#ff0000", "#0000ff", "#ff9900"]}, "legend": {"title": "Adsorption site"}}}}
      ]
    },
    {
      "width": 300, "height": 206,
      "layer": [
        {"data": {"values": [{"metal": "Pt", "n": "13", "ads": "- OH"}]},
         "mark": {"type": "rect", "color": "#e3b2b1"},
         "encoding": {
           "x": {"datum": -1.1, "type": "quantitative", "scale": {"domain": [-1.1, -0.4], "nice": false, "zero": false}, "axis": {"orient": "top", "values": [-1, -0.9, -0.8, -0.7, -0.6, -0.5], "labels": false, "title": null}},
           "x2": {"datum": -0.805},
           "y": {"datum": 0, "type": "quantitative", "scale": {"domain": [-5, 0], "nice": false, "zero": false}},
           "y2": {"datum": -1.0}}},
        {"data": {"values": [{"metal": "Pt", "n": "13", "ads": "- OH"}]},
         "mark": {"type": "text", "align": "left", "baseline": "alphabetic", "fontSize": 24, "color": "#111111"},
         "encoding": {"x": {"datum": -1.073, "type": "quantitative", "axis": null}, "y": {"datum": -0.74, "type": "quantitative"}, "text": {"field": "metal"}}},
        {"data": {"values": [{"metal": "Pt", "n": "13", "ads": "- OH"}]},
         "mark": {"type": "text", "align": "left", "baseline": "alphabetic", "fontSize": 16, "color": "#111111"},
         "encoding": {"x": {"datum": -1.016, "type": "quantitative", "axis": null}, "y": {"datum": -0.86, "type": "quantitative"}, "text": {"field": "n"}}},
        {"data": {"values": [{"metal": "Pt", "n": "13", "ads": "- OH"}]},
         "mark": {"type": "text", "align": "left", "baseline": "alphabetic", "fontSize": 24, "color": "#111111"},
         "encoding": {"x": {"datum": -0.956, "type": "quantitative", "axis": null}, "y": {"datum": -0.74, "type": "quantitative"}, "text": {"field": "ads"}}},
        {"data": {"name": "pt13oh"},
         "mark": {"type": "square", "size": 20, "opacity": 1},
         "encoding": {
           "x": {"field": "charge", "type": "quantitative", "scale": {"domain": [-1.1, -0.4], "nice": false, "zero": false}, "axis": {"orient": "bottom", "values": [-1, -0.9, -0.8, -0.7, -0.6, -0.5, -0.4], "labelExpr": "indexof([-1, -0.8, -0.6, -0.4], datum.value) >= 0 ? replace(format(datum.value, '~g'), '\u2212', '-') : ''", "title": null}},
           "y": {"field": "energy", "type": "quantitative", "scale": {"domain": [-5, 0], "nice": false, "zero": false}, "axis": {"orient": "left", "values": [-1, -2, -3, -4], "labels": false, "title": null}},
           "color": {"field": "site", "type": "nominal", "scale": {"domain": ["On-top", "Bridge", "Three-hollow"], "range": ["#ff0000", "#0000ff", "#ff9900"]}, "legend": {"title": "Adsorption site"}}}}
      ]
    }
  ]
}
